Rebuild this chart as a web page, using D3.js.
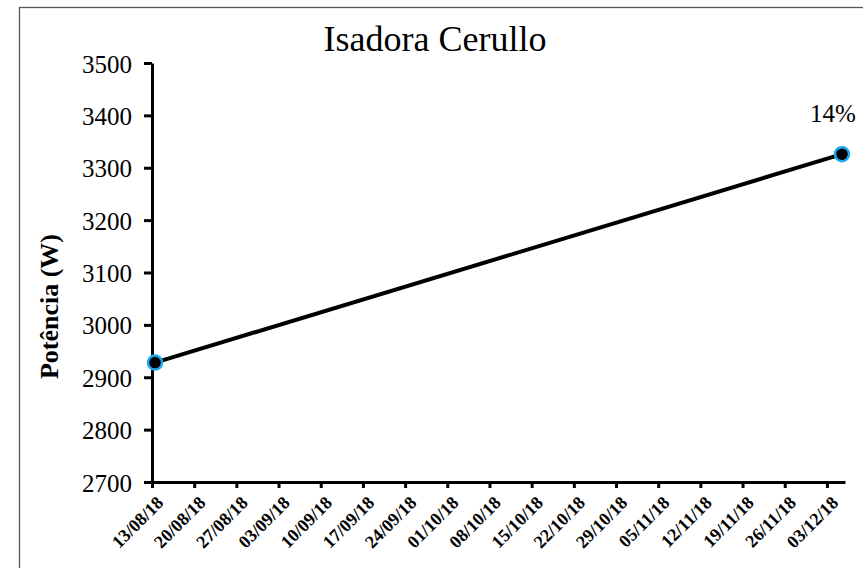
<!DOCTYPE html>
<html>
<head>
<meta charset="utf-8">
<script src="https://cdn.jsdelivr.net/npm/d3@7"></script>
<style>
  body { margin: 0; background: #fff; }
</style>
</head>
<body>
<div id="chart"></div>
<script>
// --- data ---
const title = "Isadora Cerullo";
const yLabel = "Potência (W)";
const dates = ["2018-08-13 12:00", "2018-12-05 12:00"];
const values = [2928, 3326];
const pointLabels = ["", "14%"];
const tickDates = ["13/08/18", "20/08/18", "27/08/18", "03/09/18", "10/09/18", "17/09/18",
  "24/09/18", "01/10/18", "08/10/18", "15/10/18", "22/10/18", "29/10/18", "05/11/18",
  "12/11/18", "19/11/18", "26/11/18", "03/12/18"];
const yTicks = [2700, 2800, 2900, 3000, 3100, 3200, 3300, 3400, 3500];

const width = 863, height = 568;
const margin = { left: 152, right: 18, top: 63, bottom: 86 };
const serif = "'Liberation Serif', 'Times New Roman', serif";

const parseIso = d3.timeParse("%Y-%m-%d %H:%M");
const parseTick = d3.timeParse("%d/%m/%y");
const fmtTick = d3.timeFormat("%d/%m/%y");

const svg = d3.select("#chart").append("svg")
  .attr("width", width)
  .attr("height", height)
  .style("font-family", serif);

// outer frame (runs off the right/bottom edges)
svg.append("rect")
  .attr("x", 19.5).attr("y", 7.5)
  .attr("width", 1000).attr("height", 1000)
  .attr("fill", "none")
  .attr("stroke", "#595959")
  .attr("stroke-width", 1.3);

const x = d3.scaleTime()
  .domain([parseTick("13/08/18"), parseTick("06/12/18")])
  .range([margin.left, width - margin.right]);
const y = d3.scaleLinear()
  .domain([2700, 3500])
  .range([height - margin.bottom, margin.top]);

// y axis
const yAxis = svg.append("g")
  .attr("transform", `translate(${margin.left},0)`)
  .call(d3.axisLeft(y).tickValues(yTicks).tickFormat(d3.format("d"))
    .tickSize(8).tickSizeOuter(0).tickPadding(12));
yAxis.attr("font-family", null);
yAxis.select(".domain").attr("stroke", "#000").attr("stroke-width", 3);
yAxis.selectAll(".tick line").attr("stroke", "#000").attr("stroke-width", 3);
yAxis.selectAll(".tick text")
  .style("font-family", serif)
  .style("font-size", "25px")
  .attr("fill", "#000")
  .attr("dy", "0.36em");

// x axis
const xAxis = svg.append("g")
  .attr("transform", `translate(0,${height - margin.bottom})`)
  .call(d3.axisBottom(x).tickValues(tickDates.map(parseTick)).tickFormat(fmtTick)
    .tickSize(6).tickSizeOuter(0).tickPadding(6));
xAxis.attr("font-family", null);
xAxis.select(".domain").attr("stroke", "#000").attr("stroke-width", 3);
xAxis.selectAll(".tick line").attr("stroke", "#000").attr("stroke-width", 3);
xAxis.selectAll(".tick text")
  .style("font-family", serif)
  .style("font-size", "18px")
  .style("font-weight", "bold")
  .attr("fill", "#000")
  .attr("text-anchor", "end")
  .attr("transform", "translate(3,13) rotate(-45)")
  .attr("x", 0).attr("y", 0)
  .attr("dy", "0.7em");

// y label
svg.append("text")
  .attr("transform", `translate(58,${y(3035)}) rotate(-90)`)
  .attr("text-anchor", "middle")
  .style("font-family", serif)
  .style("font-size", "26px")
  .style("font-weight", "bold")
  .text(yLabel);

// title
svg.append("text")
  .attr("x", 435).attr("y", 51)
  .attr("text-anchor", "middle")
  .style("font-family", serif)
  .style("font-size", "36px")
  .text(title);

const pts = dates.map((d, i) => ({ date: parseIso(d), value: values[i], label: pointLabels[i] }));

svg.append("path")
  .datum(pts)
  .attr("fill", "none")
  .attr("stroke", "#000")
  .attr("stroke-width", 4)
  .attr("d", d3.line().x(d => x(d.date)).y(d => y(d.value)));

svg.selectAll("circle.pt")
  .data(pts)
  .enter().append("circle")
  .attr("class", "pt")
  .attr("cx", d => x(d.date))
  .attr("cy", d => y(d.value))
  .attr("r", 7)
  .attr("fill", "#000")
  .attr("stroke", "#1aaaf0")
  .attr("stroke-width", 2.5);

// the label box is kept inside the plot area, so it sits a little left of the point
svg.selectAll("text.lbl")
  .data(pts.filter(d => d.label))
  .enter().append("text")
  .attr("class", "lbl")
  .attr("x", d => Math.min(x(d.date), width - 30))
  .attr("y", d => y(d.value) - 32)
  .attr("text-anchor", "middle")
  .style("font-family", serif)
  .style("font-size", "25px")
  .text(d => d.label);
</script>
</body>
</html>
